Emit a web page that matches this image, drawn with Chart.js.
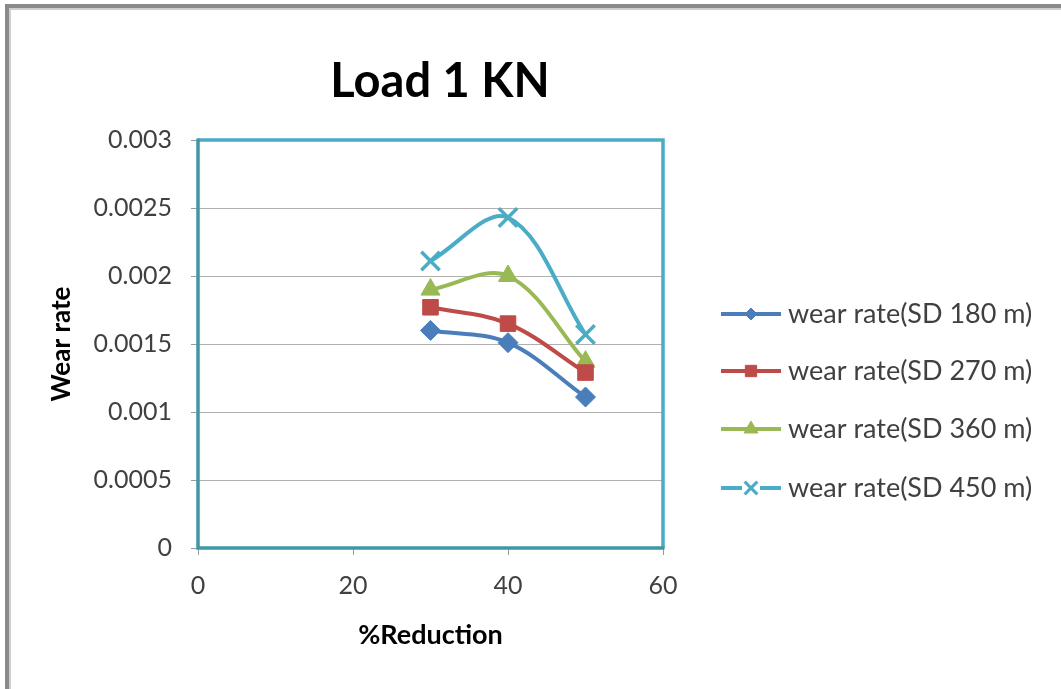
<!DOCTYPE html>
<html><head><meta charset="utf-8">
<script src="https://cdn.jsdelivr.net/npm/chart.js@4.4.0/dist/chart.umd.min.js"></script>
<style>html,body{margin:0;padding:0;background:#fff}#wrap{position:relative;width:1061px;height:689px}</style>
</head><body><div id="wrap"><canvas id="c" width="1061" height="689"></canvas></div>
<script>
// ---- data ----
const chartTitle = 'Load 1 KN';
const xTitle = '%Reduction';
const yTitle = 'Wear rate';
const reduction = [30, 40, 50];
const seriesNames = ['wear rate(SD 180 m)', 'wear rate(SD 270 m)', 'wear rate(SD 360 m)', 'wear rate(SD 450 m)'];
const sd180 = [0.0016, 0.00151, 0.00111];
const sd270 = [0.00177, 0.00165, 0.00129];
const sd360 = [0.0019, 0.002, 0.00137];
const sd450 = [0.00211, 0.00243, 0.00157];
const xTicks = [0, 20, 40, 60];
const yTicks = [0, 0.0005, 0.001, 0.0015, 0.002, 0.0025, 0.003];

const FONT = 'Lato, "Open Sans", sans-serif';
const colors = ['#4A7EBB', '#BE4B48', '#98B954', '#4BACC6'];
const styles = ['rectRot', 'rect', 'triangle', 'crossRot'];
const radii = [10, 11, 11, 13];
const legendRadii = [6, 8, 8, 9];
const allSeries = [sd180, sd270, sd360, sd450];

const datasets = allSeries.map((vals, i) => ({
  label: seriesNames[i],
  data: reduction.map((x, j) => ({x: x, y: vals[j]})),
  borderColor: colors[i],
  backgroundColor: colors[i],
  pointBackgroundColor: colors[i],
  pointBorderColor: colors[i],
  pointStyle: styles[i],
  pointRadius: radii[i],
  pointBorderWidth: i === 3 ? 3.5 : 1,
  borderWidth: 4,
  tension: 0.35,
  fill: false
}));

const framePlugin = {
  id: 'frame',
  beforeDraw(chart) {
    const ctx = chart.ctx;
    ctx.save();
    ctx.fillStyle = '#fff';
    ctx.fillRect(0, 0, chart.width, chart.height);
    ctx.fillStyle = '#8a8a8a';
    ctx.fillRect(5, 4, 4, chart.height - 4);
    ctx.fillRect(5, 4, chart.width - 5, 4);
    ctx.fillStyle = '#cfcfcf';
    ctx.fillRect(9, 8, 2, chart.height - 8);
    ctx.fillRect(9, 8, chart.width - 9, 2);
    ctx.restore();
  },
  beforeDatasetsDraw(chart) {
    const {ctx, chartArea: a} = chart;
    ctx.save();
    ctx.lineWidth = 3.5;
    ctx.strokeStyle = '#4BACC6';
    ctx.beginPath();
    ctx.moveTo(a.left, a.top); ctx.lineTo(a.right, a.top); ctx.lineTo(a.right, a.bottom);
    ctx.stroke();
    ctx.strokeStyle = '#3f96a6';
    ctx.beginPath();
    ctx.moveTo(a.left, a.top - 1.5); ctx.lineTo(a.left, a.bottom); ctx.lineTo(a.right + 1.5, a.bottom);
    ctx.stroke();
    ctx.restore();
  },
  afterDraw(chart) {
    const ctx = chart.ctx;
    ctx.save();
    // title
    ctx.fillStyle = '#000';
    ctx.font = 'bold 47px ' + FONT;
    ctx.textAlign = 'center';
    ctx.textBaseline = 'middle';
    ctx.fillText(chartTitle, 440, 82);
    // legend
    const ys = [314, 371, 429, 488];
    chart.data.datasets.forEach((ds, i) => {
      const y = ys[i];
      ctx.strokeStyle = ds.borderColor;
      ctx.lineWidth = 4;
      ctx.beginPath(); ctx.moveTo(721, y); ctx.lineTo(781, y); ctx.stroke();
      const opts = {pointStyle: ds.pointStyle, radius: legendRadii[i], borderWidth: i === 3 ? 3 : 1, rotation: 0};
      ctx.fillStyle = ds.borderColor;
      ctx.strokeStyle = ds.borderColor;
      if (i === 3) {
        ctx.fillStyle = '#fff';
        ctx.fillRect(742, y - 9, 18, 18);
        ctx.fillStyle = ds.borderColor;
      }
      ctx.lineWidth = opts.borderWidth;
      if (Chart.helpers && Chart.helpers.drawPoint) {
        Chart.helpers.drawPoint(ctx, opts, 751, y);
      }
      ctx.fillStyle = '#404040';
      ctx.font = '27px ' + FONT;
      ctx.textAlign = 'left';
      ctx.textBaseline = 'middle';
      ctx.fillText(ds.label, 788, y);
    });
    ctx.restore();
  }
};

new Chart(document.getElementById('c'), {
  type: 'line',
  data: {datasets: datasets},
  plugins: [framePlugin],
  options: {
    responsive: false,
    animation: false,
    devicePixelRatio: 1,
    layout: {padding: {left: 0, top: 140, right: 398, bottom: 0}},
    plugins: {legend: {display: false}, title: {display: false}, tooltip: {enabled: false}},
    scales: {
      x: {
        type: 'linear', min: 0, max: 60,
        afterBuildTicks: (s) => { s.ticks = xTicks.map(v => ({value: v})); },
        afterFit: (s) => { s.height = 141; },
        border: {display: false},
        grid: {drawOnChartArea: false, drawTicks: true, tickLength: 7, color: '#9a9a9a', tickColor: '#9a9a9a'},
        ticks: {font: {family: FONT, size: 25}, color: '#404040', padding: 16, maxRotation: 0},
        title: {display: true, text: xTitle, color: '#000', font: {family: FONT, size: 27, weight: 'bold'}, padding: {top: 0, bottom: 38}}
      },
      y: {
        min: 0, max: 0.003,
        afterBuildTicks: (s) => { s.ticks = yTicks.map(v => ({value: v})); },
        afterFit: (s) => { s.width = 198; },
        border: {display: false},
        grid: {color: '#b0b0b0', tickColor: '#9a9a9a', tickLength: 7, lineWidth: 1},
        ticks: {font: {family: FONT, size: 25}, color: '#404040', padding: 19,
          callback: (v) => String(+Number(v).toFixed(4))},
        title: {display: true, text: yTitle, color: '#000', font: {family: FONT, size: 26, weight: 'bold'}, padding: {top: 46, bottom: 0}}
      }
    }
  }
});
</script>
</body></html>
